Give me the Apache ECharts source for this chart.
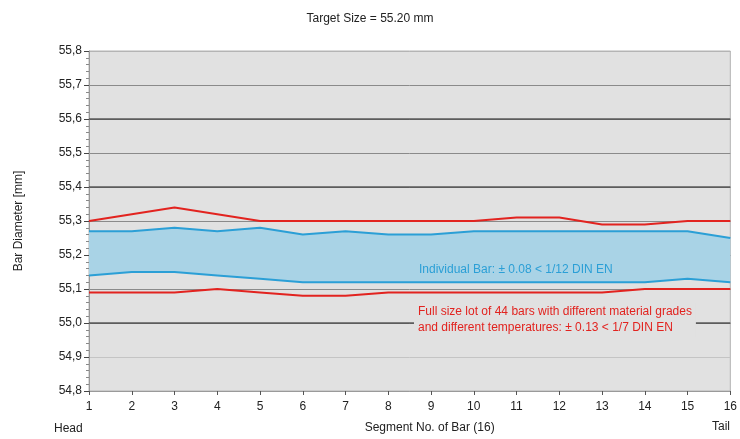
<!DOCTYPE html>
<html>
<head>
<meta charset="utf-8">
<script src="https://cdn.jsdelivr.net/npm/echarts@6/dist/echarts.min.js"></script>
<style>html,body{margin:0;padding:0;background:#fff}#c{width:740px;height:439px}</style>
</head>
<body>
<div id="c"></div>
<script>
const segments = ['1','2','3','4','5','6','7','8','9','10','11','12','13','14','15','16'];
const fullLotUpper = [55.30,55.32,55.34,55.32,55.30,55.30,55.30,55.30,55.30,55.30,55.31,55.31,55.29,55.29,55.30,55.30];
const fullLotLower = [55.09,55.09,55.09,55.10,55.09,55.08,55.08,55.09,55.09,55.09,55.09,55.09,55.09,55.10,55.10,55.10];
const barUpper = [55.27,55.27,55.28,55.27,55.28,55.26,55.27,55.26,55.26,55.27,55.27,55.27,55.27,55.27,55.27,55.25];
const barLower = [55.14,55.15,55.15,55.14,55.13,55.12,55.12,55.12,55.12,55.12,55.12,55.12,55.12,55.12,55.13,55.12];
const majorLines = [55.0, 55.4, 55.6];
const title = 'Target Size = 55.20 mm';
const yName = 'Bar Diameter [mm]';
const xName = 'Segment No. of Bar (16)';
const blueNote = 'Individual Bar: \u00b1 0.08 < 1/12 DIN EN';
const redNote = ['Full size lot of 44 bars with different material grades', 'and different temperatures: \u00b1 0.13 < 1/7 DIN EN'];

const RED = '#e2231f', BLUE = '#2b9fd6', BAND = '#a9d3e6';
const FONT = 'Arial, "Liberation Sans", sans-serif';
const diff = barUpper.map((v, i) => +(v - barLower[i]).toFixed(3));

const chart = echarts.init(document.getElementById('c'), null, {renderer: 'canvas'});
chart.setOption({
  animation: false,
  textStyle: {fontFamily: FONT},
  title: {text: title, left: 'center', top: 8, textStyle: {fontSize: 12, fontWeight: 'normal', color: '#222', fontFamily: FONT}},
  grid: {left: 89, right: 7, top: 51, bottom: 46, show: true, backgroundColor: '#e1e1e1', borderColor: '#b4b4b4', borderWidth: 1},
  xAxis: {
    type: 'category', data: segments, boundaryGap: false,
    name: xName, nameLocation: 'middle', nameGap: 31,
    nameTextStyle: {fontSize: 12, color: '#222', padding: [0, 0, 0, 40]},
    axisLine: {show: true, lineStyle: {color: '#9a9a9a'}},
    axisTick: {show: true, length: 4, lineStyle: {color: '#555'}},
    axisLabel: {fontSize: 12, color: '#222', margin: 10},
    splitLine: {show: false}
  },
  yAxis: {
    type: 'value', min: 54.8, max: 55.8, interval: 0.1,
    name: yName, nameLocation: 'middle', nameGap: 64,
    nameTextStyle: {fontSize: 12, color: '#222'},
    axisLine: {show: true, lineStyle: {color: '#9a9a9a'}},
    axisTick: {show: true, length: 5, lineStyle: {color: '#444'}},
    minorTick: {show: true, splitNumber: 5, length: 3, lineStyle: {color: '#888'}},
    axisLabel: {fontSize: 12, color: '#222', margin: 7, formatter: v => v.toFixed(1).replace('.', ',')},
    splitLine: {show: true, lineStyle: {width: 1, color: ['#b4b4b4','#c4c4c4','#666','#8a8a8a','#666','#8a8a8a','#666','#8a8a8a','#666','#8a8a8a','#b4b4b4']}}
  },
  series: [
    {type: 'line', z: 1, data: [], symbol: 'none', silent: true,
      markLine: {symbol: 'none', silent: true, label: {show: false}, lineStyle: {color: '#5a5a5a', width: 1.5, type: 'solid'},
        data: majorLines.map(v => ({yAxis: v}))}},
    {type: 'line', z: 2, stack: 'band', data: barLower, symbol: 'none', lineStyle: {width: 0, opacity: 0}, silent: true},
    {type: 'line', z: 2, stack: 'band', data: diff, symbol: 'none', lineStyle: {width: 0, opacity: 0}, areaStyle: {color: BAND, opacity: 1}, silent: true},
    {type: 'line', z: 3, data: barUpper, symbol: 'none', lineStyle: {color: BLUE, width: 2}},
    {type: 'line', z: 3, data: barLower, symbol: 'none', lineStyle: {color: BLUE, width: 2}},
    {type: 'line', z: 3, data: fullLotUpper, symbol: 'none', lineStyle: {color: RED, width: 2}},
    {type: 'line', z: 3, data: fullLotLower, symbol: 'none', lineStyle: {color: RED, width: 2}}
  ],
  graphic: [
    {type: 'text', left: 54, top: 423, style: {text: 'Head', fontSize: 12, fill: '#222', fontFamily: FONT}},
    {type: 'text', left: 712, top: 421, style: {text: 'Tail', fontSize: 12, fill: '#222', fontFamily: FONT}},
    {type: 'text', left: 419, top: 264, z: 100, style: {text: blueNote, fontSize: 12, fill: BLUE, fontFamily: FONT}},
    {type: 'text', left: 414, top: 303, z: 100, style: {text: redNote.join('\n'), fontSize: 12, lineHeight: 16, fill: RED, fontFamily: FONT, backgroundColor: '#e1e1e1', padding: [1, 4, 1, 4]}}
  ]
});
</script>
</body>
</html>
